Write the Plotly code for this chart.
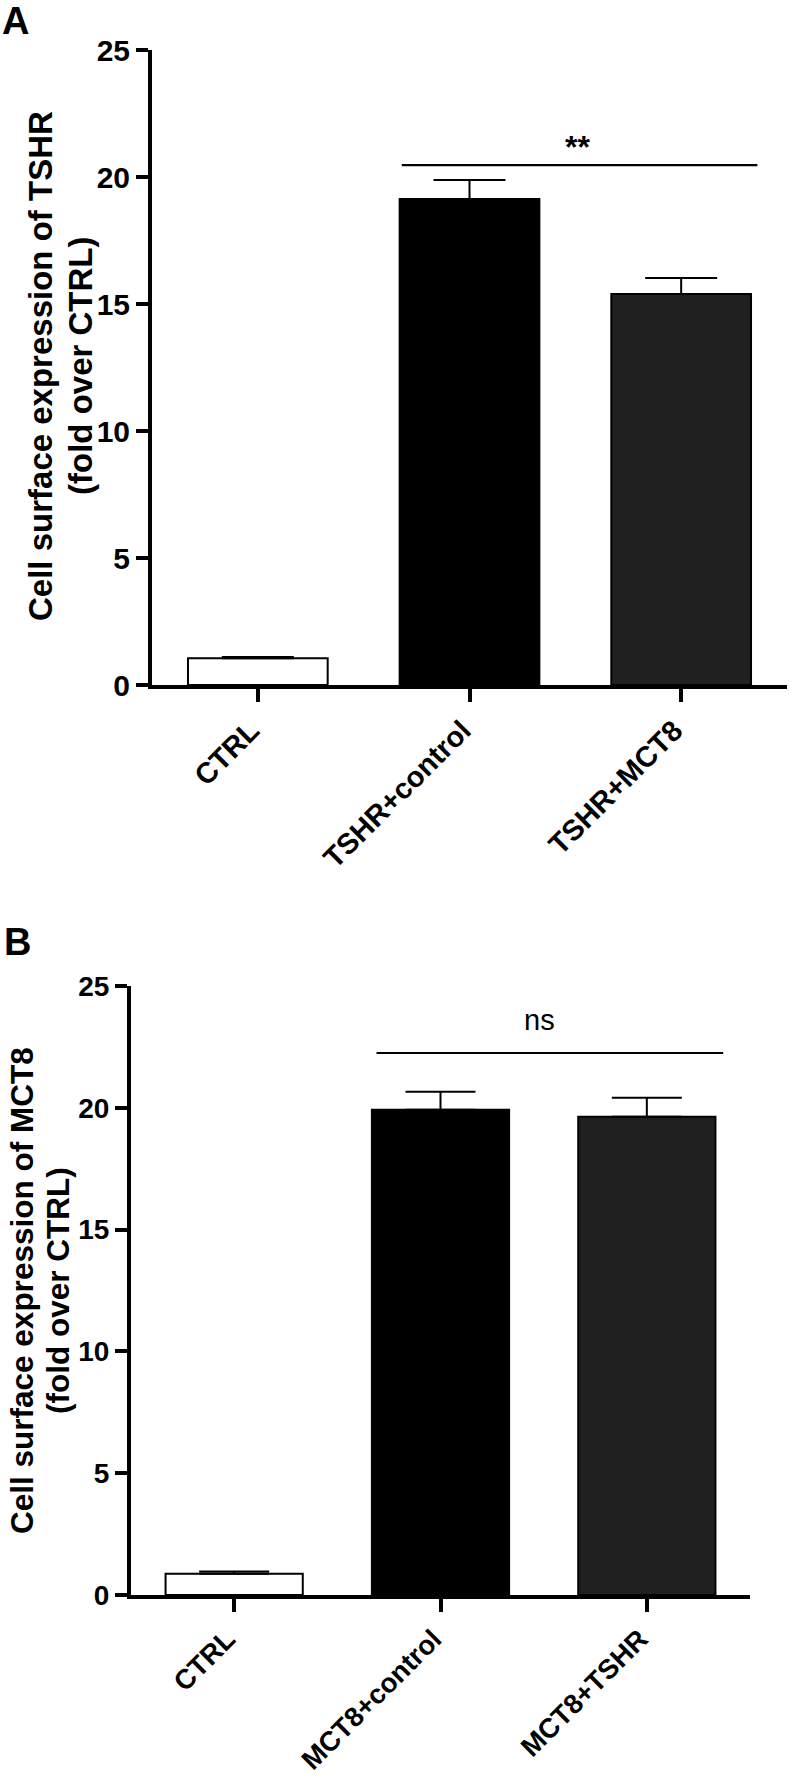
import plotly.graph_objects as go

# ---------------- data ----------------
cats_a = ["CTRL", "TSHR+control", "TSHR+MCT8"]
vals_a = [1.05, 19.13, 15.39]
errs_a = [0.05, 0.75, 0.63]

cats_b = ["CTRL", "MCT8+control", "MCT8+TSHR"]
vals_b = [0.87, 19.92, 19.63]
errs_b = [0.09, 0.74, 0.78]

ytick_vals = [0, 5, 10, 15, 20, 25]
sig_a_x = [0.68, 2.36]
sig_a_y = [20.47, 20.47]
sig_a_label = "**"
sig_b_x = [0.69, 2.37]
sig_b_y = [22.25, 22.25]
sig_b_label = "ns"

W, H = 789, 1782
FONT = "Liberation Sans, Arial, sans-serif"
bar_fill = ["white", "black", "#202020"]


def px(x):
    return x / W


def py(y):
    return 1 - y / H


fig = go.Figure()

fig.add_trace(go.Bar(
    x=list(range(3)), y=vals_a, width=0.66,
    marker=dict(color=bar_fill, line=dict(color="black", width=2)),
    error_y=dict(type="data", symmetric=False, array=errs_a, arrayminus=[0, 0, 0],
                 color="black", thickness=2, width=36),
    xaxis="x", yaxis="y", showlegend=False, hoverinfo="skip"))
fig.add_trace(go.Scatter(x=sig_a_x, y=sig_a_y, mode="lines",
                         line=dict(color="black", width=2.2),
                         xaxis="x", yaxis="y", showlegend=False, hoverinfo="skip"))

fig.add_trace(go.Bar(
    x=list(range(3)), y=vals_b, width=0.665,
    marker=dict(color=bar_fill, line=dict(color="black", width=2)),
    error_y=dict(type="data", symmetric=False, array=errs_b, arrayminus=[0, 0, 0],
                 color="black", thickness=2, width=35),
    xaxis="x2", yaxis="y2", showlegend=False, hoverinfo="skip"))
fig.add_trace(go.Scatter(x=sig_b_x, y=sig_b_y, mode="lines",
                         line=dict(color="black", width=2.2),
                         xaxis="x2", yaxis="y2", showlegend=False, hoverinfo="skip"))

ytickfont = dict(family=FONT, size=30, color="black", weight="bold")
ytickfont_b = dict(family=FONT, size=28, color="black", weight="bold")
xtickfont = dict(family=FONT, size=29, color="black", weight="bold")
xtickfont_b = dict(family=FONT, size=27.5, color="black", weight="bold")

common_y = dict(range=[0, 25], tickvals=ytick_vals, ticks="outside", ticklen=12,
                tickwidth=4, tickcolor="black", showline=True, linewidth=4,
                linecolor="black", showgrid=False, zeroline=False, automargin=False)
common_x = dict(range=[-0.5, 2.5], tickvals=[0, 1, 2], ticks="outside", ticklen=13,
                tickwidth=4, tickcolor="black", showline=True, linewidth=4,
                linecolor="black", showgrid=False, zeroline=False, tickangle=-45,
                automargin=False, ticklabelshift=-7)

fig.update_layout(
    template="none",
    width=W, height=H, autosize=False,
    margin=dict(l=0, r=0, t=0, b=0),
    paper_bgcolor="white", plot_bgcolor="white",
    bargap=0,
    xaxis=dict(domain=[px(152), px(787)], anchor="y", ticktext=cats_a,
               tickfont=xtickfont, **common_x),
    yaxis=dict(domain=[py(685), py(50)], anchor="x", tickfont=ytickfont, **common_y),
    xaxis2=dict(domain=[px(131), px(750)], anchor="y2", ticktext=cats_b,
                tickfont=xtickfont_b, **common_x),
    yaxis2=dict(domain=[py(1595), py(986)], anchor="x2", tickfont=ytickfont_b, **common_y),
)

annos = [
    dict(text="A", x=px(16), y=py(21), font=dict(family=FONT, size=38, color="black", weight="bold")),
    dict(text="B", x=px(17), y=py(942), font=dict(family=FONT, size=38, color="black", weight="bold")),
    dict(text="Cell surface expression of TSHR", x=px(40), y=py(366), textangle=-90,
         font=dict(family=FONT, size=33, color="black", weight="bold")),
    dict(text="(fold over CTRL)", x=px(80), y=py(366), textangle=-90,
         font=dict(family=FONT, size=33, color="black", weight="bold")),
    dict(text="Cell surface expression of MCT8", x=px(22), y=py(1291), textangle=-90,
         font=dict(family=FONT, size=31.5, color="black", weight="bold")),
    dict(text="(fold over CTRL)", x=px(58), y=py(1291), textangle=-90,
         font=dict(family=FONT, size=31.5, color="black", weight="bold")),
]
for a in annos:
    fig.add_annotation(xref="paper", yref="paper", xanchor="center", yanchor="middle",
                       showarrow=False, **a)

fig.add_annotation(xref="x", yref="y", x=sum(sig_a_x) / 2 - 0.01, y=21.2, text=sig_a_label,
                   showarrow=False, xanchor="center", yanchor="middle",
                   font=dict(family=FONT, size=32, color="black", weight="bold"))
fig.add_annotation(xref="x2", yref="y2", x=sum(sig_b_x) / 2 - 0.05, y=23.6, text=sig_b_label,
                   showarrow=False, xanchor="center", yanchor="middle",
                   font=dict(family=FONT, size=29, color="black"))

fig.write_html(
    "out.html",
    config={"displayModeBar": False, "staticPlot": True},
    post_script="document.body.style.margin='0';document.body.style.padding='0';"
                "document.body.style.overflow='hidden';",
)
